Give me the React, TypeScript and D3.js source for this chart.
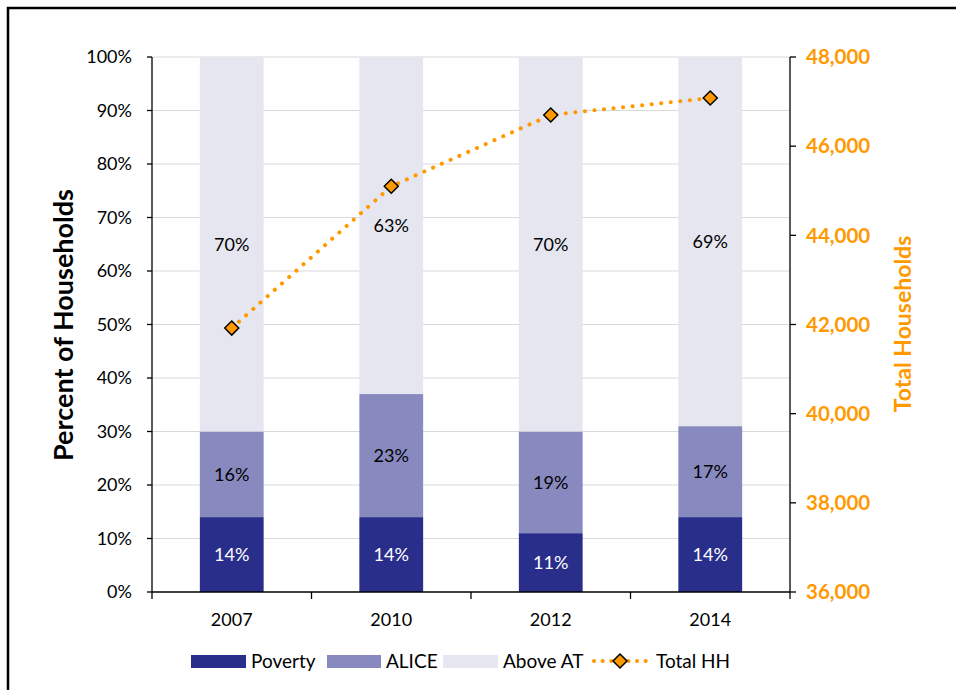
import React from "react";
import * as d3 from "d3";

const years = ["2007", "2010", "2012", "2014"];
const poverty = [14, 14, 11, 14];
const alice = [16, 23, 19, 17];
const aboveAT = [70, 63, 70, 69];
const totalHH = [41920, 45100, 46700, 47080];
const leftTicks = [0, 10, 20, 30, 40, 50, 60, 70, 80, 90, 100];
const rightTicks = [36000, 38000, 40000, 42000, 44000, 46000, 48000];

const W = 956, H = 690;
const FONT = "Lato, 'Open Sans', sans-serif";
const C_POV = "#2a2e8b";
const C_ALICE = "#8789bf";
const C_ABOVE = "#e6e6f0";
const ORANGE = "#ff9900";

export default function App() {
  const left = 152, right = 790, top = 57, bottom = 592;
  const x = d3.scaleBand<string>().domain(years).range([left, right]).paddingInner(0.6).paddingOuter(0.3);
  const xb = d3.scaleBand<string>().domain(years).range([left, right]);
  const y = d3.scaleLinear().domain([0, 100]).range([bottom, top]);
  const y2 = d3.scaleLinear().domain([36000, 48000]).range([bottom, top]);
  const fmt = d3.format(",");
  const line = d3.line<number>().x((_, i) => xb(years[i])! + xb.bandwidth() / 2).y((d) => y2(d));

  const segs = years.map((yr, i) => {
    const vals = [poverty[i], alice[i], aboveAT[i]];
    const cols = [C_POV, C_ALICE, C_ABOVE];
    let acc = 0;
    return vals.map((v, k) => {
      const y0 = acc; acc += v;
      return { yr, v, y0, y1: acc, col: cols[k], k };
    });
  }).flat();

  const bw = x.bandwidth();
  const diamond = (cx: number, cy: number, r: number) => `M${cx},${cy - r}L${cx + r},${cy}L${cx},${cy + r}L${cx - r},${cy}Z`;

  return (
    <div style={{ position: "absolute", left: 0, top: 0 }}>
      <svg width={W} height={H} style={{ display: "block", fontFamily: FONT }}>
        <rect x={0} y={0} width={W} height={H} fill="#fff" />
        <rect x={8} y={8} width={W + 20} height={H + 20} fill="none" stroke="#000" strokeWidth={2.5} />
        {leftTicks.slice(1).map((t) => (
          <line key={t} x1={left} x2={right} y1={y(t)} y2={y(t)} stroke="#d9d9d9" strokeWidth={1} />
        ))}
        {segs.map((s, i) => (
          <rect key={i} x={x(s.yr)} y={y(s.y1)} width={bw} height={y(s.y0) - y(s.y1)} fill={s.col} />
        ))}
        {segs.map((s, i) => (
          <text key={"l" + i} x={x(s.yr)! + bw / 2} y={(y(s.y0) + y(s.y1)) / 2} dy="0.35em" textAnchor="middle"
            fontSize={18} fill={s.k === 0 ? "#fff" : "#000"}>{s.v}%</text>
        ))}
        {/* left axis */}
        <line x1={left} x2={left} y1={top} y2={bottom} stroke="#000" strokeWidth={1.3} />
        {leftTicks.map((t) => (
          <g key={t}>
            <line x1={left - 5} x2={left} y1={y(t)} y2={y(t)} stroke="#000" strokeWidth={1.3} />
            <text x={left - 20} y={y(t)} dy="0.35em" textAnchor="end" fontSize={18} fill="#000">{t}%</text>
          </g>
        ))}
        {/* right axis */}
        <line x1={right} x2={right} y1={top} y2={bottom} stroke="#000" strokeWidth={1.3} />
        {rightTicks.map((t) => (
          <g key={t}>
            <line x1={right} x2={right + 6} y1={y2(t)} y2={y2(t)} stroke="#000" strokeWidth={1.3} />
            <text x={right + 16} y={y2(t)} dy="0.35em" textAnchor="start" fontSize={20.5} fontWeight="bold" fill={ORANGE}>{fmt(t)}</text>
          </g>
        ))}
        {/* x axis */}
        <line x1={left} x2={right} y1={bottom} y2={bottom} stroke="#000" strokeWidth={1.3} />
        {[...years.map((yr) => xb(yr)!), right].map((xx, i) => (
          <line key={i} x1={xx} x2={xx} y1={bottom} y2={bottom + 7} stroke="#000" strokeWidth={1.3} />
        ))}
        {years.map((yr) => (
          <text key={yr} x={xb(yr)! + xb.bandwidth() / 2} y={620} dy="0.35em" textAnchor="middle" fontSize={18} fill="#000">{yr}</text>
        ))}
        {/* line */}
        <path d={line(totalHH)!} fill="none" stroke={ORANGE} strokeWidth={4} strokeDasharray="0.1 9.5" strokeLinecap="round" />
        {totalHH.map((v, i) => (
          <path key={i} d={diamond(xb(years[i])! + xb.bandwidth() / 2, y2(v), 7)} fill={ORANGE} stroke="#000" strokeWidth={1.5} />
        ))}
        {/* titles */}
        <text transform={`translate(73,325) rotate(-90)`} textAnchor="middle" fontSize={27} fontWeight="bold" fill="#000">Percent of Households</text>
        <text transform={`translate(911,324) rotate(-90)`} textAnchor="middle" fontSize={23} fontWeight="bold" fill={ORANGE}>Total Households</text>
        {/* legend */}
        <rect x={191} y={655} width={55} height={13} fill={C_POV} />
        <text x={251} y={661} dy="0.35em" fontSize={19}>Poverty</text>
        <rect x={327} y={655} width={54} height={13} fill={C_ALICE} />
        <text x={386} y={661} dy="0.35em" fontSize={19}>ALICE</text>
        <rect x={443} y={655} width={55} height={13} fill={C_ABOVE} />
        <text x={503} y={661} dy="0.35em" fontSize={19}>Above AT</text>
        <line x1={594} x2={646} y1={661} y2={661} stroke={ORANGE} strokeWidth={4} strokeDasharray="0.1 8.5" strokeLinecap="round" />
        <path d={diamond(620, 661, 7)} fill={ORANGE} stroke="#000" strokeWidth={1.5} />
        <text x={656} y={661} dy="0.35em" fontSize={19}>Total HH</text>
      </svg>
    </div>
  );
}
